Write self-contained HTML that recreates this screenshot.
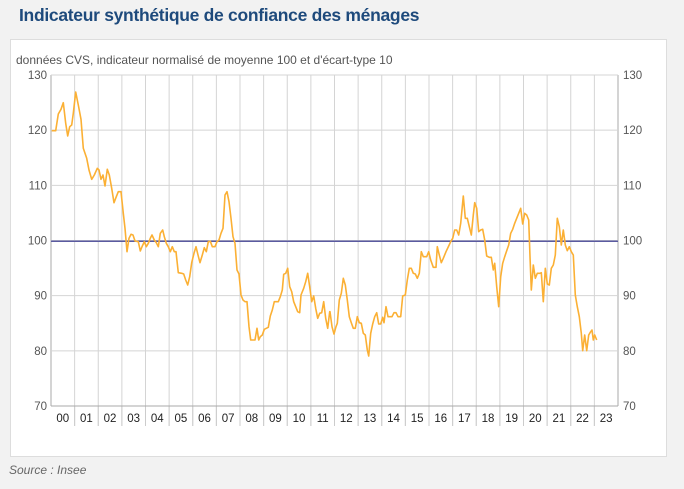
<!DOCTYPE html>
<html><head><meta charset="utf-8"><style>
body{margin:0;width:684px;height:489px;background:#f2f2f2;font-family:"Liberation Sans",sans-serif;overflow:hidden;position:relative}
.t{position:absolute;left:19px;top:5px;font-size:17.5px;color:#1e4a7c;font-weight:bold;letter-spacing:-0.3px}
.p{position:absolute;left:10px;top:39px;width:657px;height:418px;background:#fff;border:1px solid #ddd;box-sizing:border-box}
.s{position:absolute;left:9px;top:463px;font-size:12px;color:#666;font-style:italic}
</style></head><body>
<div class="t">Indicateur synthétique de confiance des ménages</div>
<div class="p"></div>
<div class="s">Source : Insee</div>
<svg id="c" width="684" height="489" style="position:absolute;left:0;top:0" font-family="Liberation Sans, sans-serif">
<text x="16" y="64" font-size="12" fill="#555">données CVS, indicateur normalisé de moyenne 100 et d'écart-type 10</text>
<g id="g" stroke="#d4d4d4" stroke-width="1"></g>
<g id="l" font-size="11.5" fill="#555"></g>
<line x1="51" y1="241.2" x2="618" y2="241.2" stroke="#5a5aa0" stroke-width="1.5"/>
<polyline id="d" fill="none" stroke="#fbb034" stroke-width="1.6" stroke-linejoin="round"/>
</svg>
<script>
var g=document.getElementById('g'),l=document.getElementById('l'),s='',t='';
for(var k=0;k<=24;k++){var x=51+k*23.625;s+='<line x1="'+x+'" y1="75" x2="'+x+'" y2="'+(k==0||k==24?406:426)+'" stroke="'+(k==0||k==24?'#aaa':'#d4d4d4')+'"/>';
if(k>0&&k<24)s+='<line x1="'+x+'" y1="406" x2="'+x+'" y2="426" stroke="#ccc"/>';
if(k<24)t+='<text x="'+(x+11.8)+'" y="422" text-anchor="middle" fill="#222">'+(k<10?'0'+k:k)+'</text>';}
for(var v=70;v<=130;v+=10){var y=406-(v-70)*5.517;s+='<line x1="51" y1="'+y+'" x2="618" y2="'+y+'" stroke="'+(v==70?'#aaa':'#d4d4d4')+'"/>';
t+='<text x="47" y="'+(y+4)+'" text-anchor="end">'+v+'</text><text x="623" y="'+(y+4)+'">'+v+'</text>';}
g.innerHTML=s;l.innerHTML=t;
var a=[20,152,32,152,40,102,48,88,55,68,62,130,68,168,74,140,80,135,85,100,92,36,100,75,108,118,115,205,125,235,132,270,140,298,148,285,157,265,162,270,168,298,174,285,180,318,187,268,193,285,200,325,207,368,214,350,220,335,228,335,235,400,240,445,246,515,252,475,258,463,264,465,270,483,280,485,286,513,292,498,298,485,304,500,310,490,316,475,321,465,328,480,334,488,340,500,346,460,353,450,358,470,364,490,370,500,376,515,382,500,388,515,393,515,400,578,410,580,416,582,422,600,428,615,434,590,440,548,447,520,453,500,459,525,465,548,472,525,478,503,484,515,490,485,496,484,502,500,510,500,516,485,522,480,528,460,534,445,540,345,546,335,552,365,558,415,564,470,570,490,576,570,582,582,588,645,594,660,600,665,606,665,612,740,617,780,625,780,630,780,636,745,641,780,646,770,652,765,658,748,664,745,670,742,676,708,682,690,688,665,694,665,700,665,706,650,712,630,716,583,722,580,728,565,734,620,740,635,746,665,752,680,758,695,764,698,768,645,776,625,782,605,788,580,794,620,800,665,806,648,812,685,818,715,824,700,830,698,836,665,842,715,848,745,854,695];
var b=[0,395,6,440,12,462,18,440,22,430,28,360,34,340,40,295,46,315,52,360,58,410,64,428,70,445,76,445,82,410,88,428,94,430,100,460,106,465,112,510,116,528,122,460,128,432,134,410,140,398,146,432,152,432,158,412,162,428,168,380,174,410,180,410,186,410,192,398,198,398,204,410,212,410,218,348,226,345,232,300,238,265,244,265,250,280,256,282,262,295,268,280,274,215,280,230,290,230,296,215,302,240,310,262,318,262,322,200,328,225,334,248,340,235,348,215,356,198,362,185,368,175,374,150,380,150,386,165,392,130,400,48,406,115,412,115,418,140,424,165,430,105,434,68,440,85,446,155,452,150,458,148,464,180,470,228,478,232,484,232,490,270,494,250,500,320,506,380,512,290,518,250,524,230,530,212,536,195,542,160,548,148,554,130,560,115,566,100,572,85,578,132,584,100,590,105,596,120,600,230,604,330,610,255,616,295,622,280,630,280,634,278,640,365,646,265,652,312,658,315,664,265,670,255,676,225,682,115,688,140,694,195,700,150,706,195,712,212,718,200,724,215,730,225,736,345,742,380,748,410,754,460,758,512,764,465,770,512,776,465,782,455,786,450,790,480,794,465,800,480];
var p=[];for(var i=0;i<a.length;i+=2)p.push((45+a[i]/3).toFixed(1)+','+(80+a[i+1]/3).toFixed(1));
for(i=0;i<b.length;i+=2)p.push((330+b[i]/3).toFixed(1)+','+(180+b[i+1]/3).toFixed(1));
document.getElementById('d').setAttribute('points',p.join(' '));
</script>
</body></html>
